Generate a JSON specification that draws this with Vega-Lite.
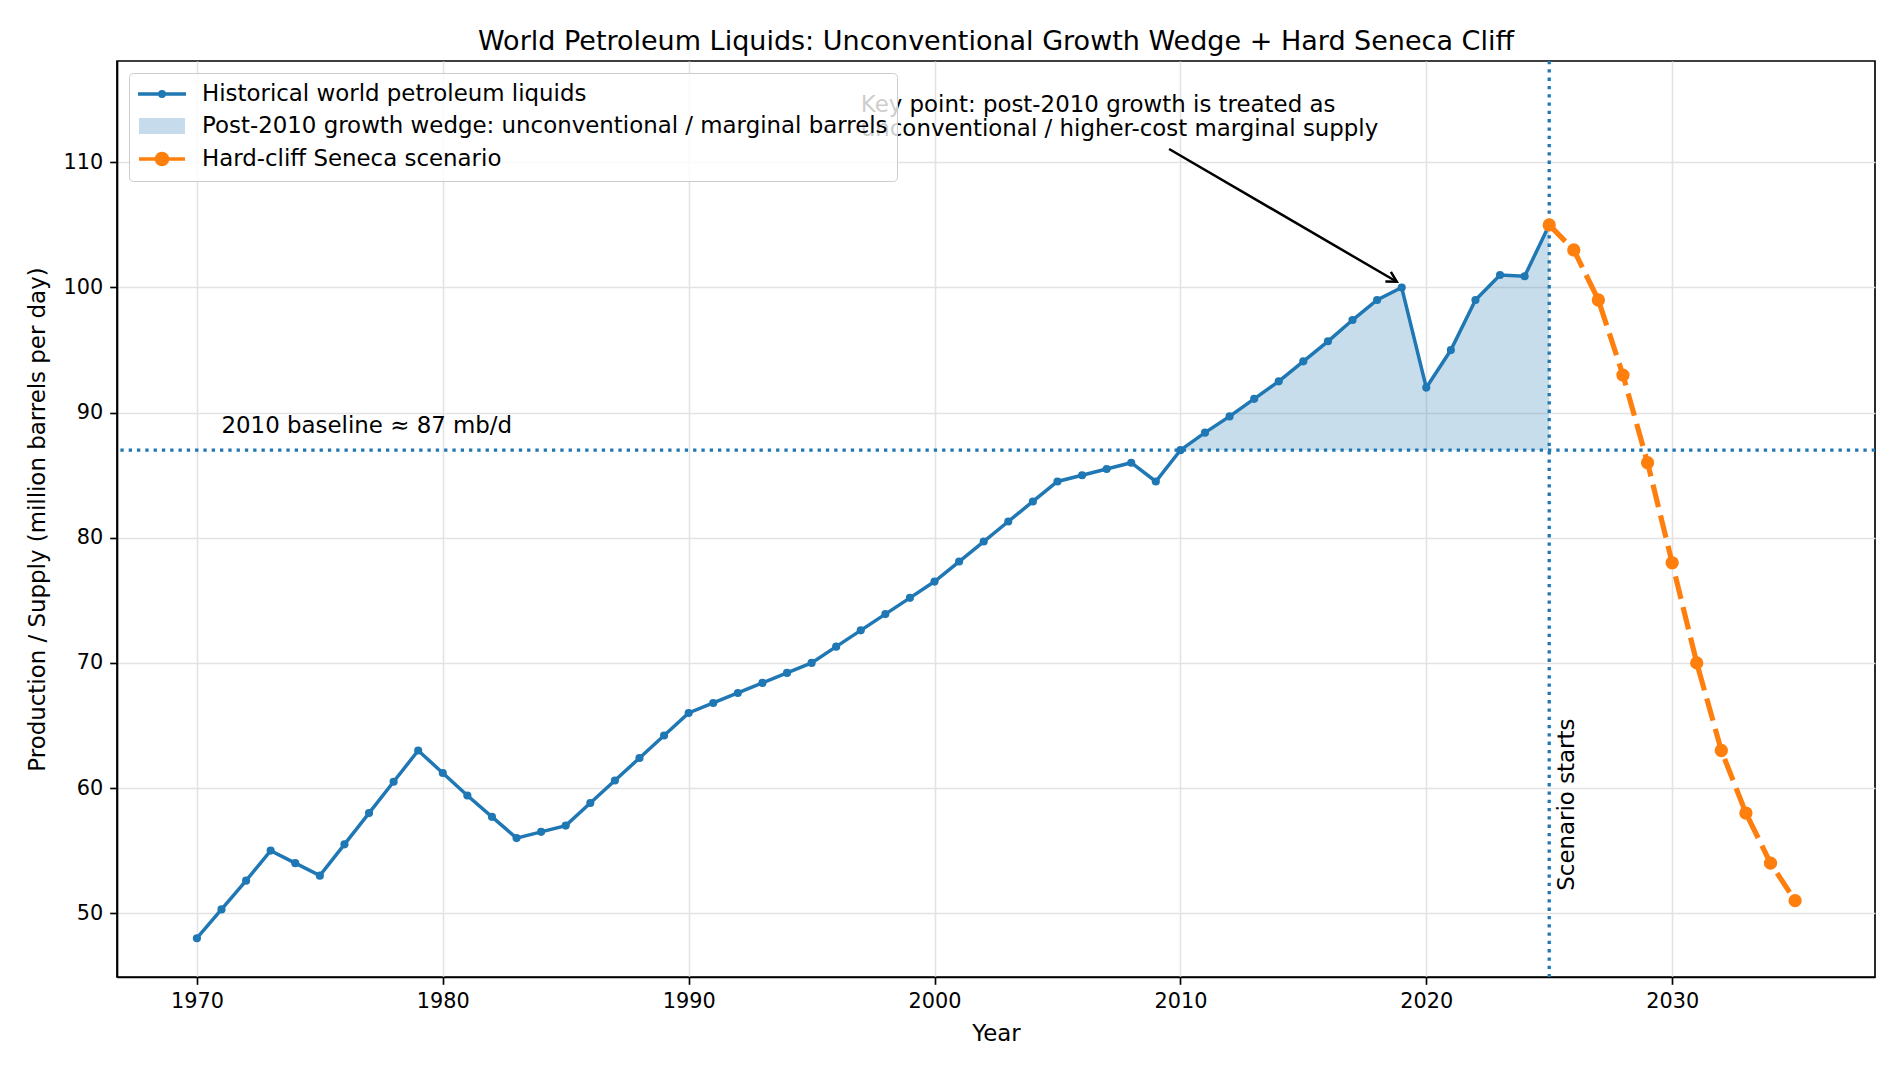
{
  "$schema": "https://vega.github.io/schema/vega-lite/v6.json",
  "width": 1758,
  "height": 916,
  "autosize": {"type": "none"},
  "padding": {"left": 117, "top": 61, "right": 25, "bottom": 96},
  "background": "white",
  "title": {
    "text": "World Petroleum Liquids: Unconventional Growth Wedge + Hard Seneca Cliff",
    "font": "DejaVu Sans",
    "fontSize": 27,
    "fontWeight": "normal",
    "color": "black",
    "anchor": "middle",
    "baseline": "alphabetic",
    "offset": -18
  },
  "datasets": {
    "hist": [
      {"year": 1970, "value": 48.0}, {"year": 1971, "value": 50.3}, {"year": 1972, "value": 52.6},
      {"year": 1973, "value": 55.0}, {"year": 1974, "value": 54.0}, {"year": 1975, "value": 53.0},
      {"year": 1976, "value": 55.5}, {"year": 1977, "value": 58.0}, {"year": 1978, "value": 60.5},
      {"year": 1979, "value": 63.0}, {"year": 1980, "value": 61.2}, {"year": 1981, "value": 59.4},
      {"year": 1982, "value": 57.7}, {"year": 1983, "value": 56.0}, {"year": 1984, "value": 56.5},
      {"year": 1985, "value": 57.0}, {"year": 1986, "value": 58.8}, {"year": 1987, "value": 60.6},
      {"year": 1988, "value": 62.4}, {"year": 1989, "value": 64.2}, {"year": 1990, "value": 66.0},
      {"year": 1991, "value": 66.8}, {"year": 1992, "value": 67.6}, {"year": 1993, "value": 68.4},
      {"year": 1994, "value": 69.2}, {"year": 1995, "value": 70.0}, {"year": 1996, "value": 71.3},
      {"year": 1997, "value": 72.6}, {"year": 1998, "value": 73.9}, {"year": 1999, "value": 75.2},
      {"year": 2000, "value": 76.5}, {"year": 2001, "value": 78.1}, {"year": 2002, "value": 79.7},
      {"year": 2003, "value": 81.3}, {"year": 2004, "value": 82.9}, {"year": 2005, "value": 84.5},
      {"year": 2006, "value": 85.0}, {"year": 2007, "value": 85.5}, {"year": 2008, "value": 86.0},
      {"year": 2009, "value": 84.5}, {"year": 2010, "value": 87.0}, {"year": 2011, "value": 88.4},
      {"year": 2012, "value": 89.7}, {"year": 2013, "value": 91.1}, {"year": 2014, "value": 92.5},
      {"year": 2015, "value": 94.1}, {"year": 2016, "value": 95.7}, {"year": 2017, "value": 97.4},
      {"year": 2018, "value": 99.0}, {"year": 2019, "value": 100.0}, {"year": 2020, "value": 92.0},
      {"year": 2021, "value": 95.0}, {"year": 2022, "value": 99.0}, {"year": 2023, "value": 101.0},
      {"year": 2024, "value": 100.9}, {"year": 2025, "value": 105.0}
    ],
    "scen": [
      {"year": 2025, "value": 105}, {"year": 2026, "value": 103}, {"year": 2027, "value": 99},
      {"year": 2028, "value": 93}, {"year": 2029, "value": 86}, {"year": 2030, "value": 78},
      {"year": 2031, "value": 70}, {"year": 2032, "value": 63}, {"year": 2033, "value": 58},
      {"year": 2034, "value": 54}, {"year": 2035, "value": 51}
    ],
    "legendrows": [
      {"series": "Historical world petroleum liquids"},
      {"series": "Post-2010 growth wedge: unconventional / marginal barrels"},
      {"series": "Hard-cliff Seneca scenario"}
    ],
    "hline": [{"value": 87}],
    "vline": [{"year": 2025}],
    "baselabel": [{"year": 1971, "value": 88.35, "label": "2010 baseline ≈ 87 mb/d"}],
    "keylabel": [{"year": 1997, "value": 114, "label": ["Key point: post-2010 growth is treated as", "unconventional / higher-cost marginal supply"]}],
    "scenlabel": [{"year": 2026.0, "value": 51.8, "label": "Scenario starts"}],
    "arrow": [{"year": 2009.54, "value": 111.07, "year2": 2018.8, "value2": 100.46}]
  },
  "layer": [
    {
      "data": {"name": "hist"},
      "transform": [{"filter": "datum.year >= 2010"}],
      "mark": {"type": "area", "color": "#1f77b4", "opacity": 0.25},
      "encoding": {
        "x": {"field": "year", "type": "quantitative", "title": "Year",
              "scale": {"domain": [1966.75, 2038.25], "nice": false, "zero": false},
              "axis": {"values": [1970, 1980, 1990, 2000, 2010, 2020, 2030], "format": "d"}},
        "y": {"field": "value", "type": "quantitative", "title": "Production / Supply (million barrels per day)",
              "scale": {"domain": [44.9, 118.1], "nice": false, "zero": false},
              "axis": {"values": [50, 60, 70, 80, 90, 100, 110], "format": "d"}},
        "y2": {"datum": 87}
      }
    },
    {
      "data": {"name": "hline"},
      "mark": {"type": "rule", "color": "#1f77b4", "strokeWidth": 3.3, "strokeDash": [3.3, 5]},
      "encoding": {
        "y": {"field": "value", "type": "quantitative", "title": "Production / Supply (million barrels per day)",
              "scale": {"domain": [44.9, 118.1], "nice": false, "zero": false}}
      }
    },
    {
      "data": {"name": "vline"},
      "mark": {"type": "rule", "color": "#1f77b4", "strokeWidth": 3.3, "strokeDash": [3.3, 5]},
      "encoding": {
        "x": {"field": "year", "type": "quantitative", "title": "Year",
              "scale": {"domain": [1966.75, 2038.25], "nice": false, "zero": false}}
      }
    },
    {
      "data": {"name": "hist"},
      "mark": {"type": "line", "color": "#1f77b4", "strokeWidth": 3.5, "point": {"filled": true, "size": 66, "color": "#1f77b4"}},
      "encoding": {
        "x": {"field": "year", "type": "quantitative", "title": "Year",
              "scale": {"domain": [1966.75, 2038.25], "nice": false, "zero": false}},
        "y": {"field": "value", "type": "quantitative", "title": "Production / Supply (million barrels per day)",
              "scale": {"domain": [44.9, 118.1], "nice": false, "zero": false}}
      }
    },
    {
      "data": {"name": "scen"},
      "mark": {"type": "line", "color": "#ff7f0e", "strokeWidth": 5.2, "strokeDash": [23, 8.5],
               "point": {"filled": true, "size": 177, "color": "#ff7f0e"}},
      "encoding": {
        "x": {"field": "year", "type": "quantitative", "title": "Year",
              "scale": {"domain": [1966.75, 2038.25], "nice": false, "zero": false}},
        "y": {"field": "value", "type": "quantitative", "title": "Production / Supply (million barrels per day)",
              "scale": {"domain": [44.9, 118.1], "nice": false, "zero": false}}
      }
    },
    {
      "data": {"name": "baselabel"},
      "mark": {"type": "text", "align": "left", "baseline": "alphabetic", "font": "DejaVu Sans", "fontSize": 22.9, "color": "black"},
      "encoding": {
        "x": {"field": "year", "type": "quantitative", "title": "Year",
              "scale": {"domain": [1966.75, 2038.25], "nice": false, "zero": false}},
        "y": {"field": "value", "type": "quantitative", "title": "Production / Supply (million barrels per day)",
              "scale": {"domain": [44.9, 118.1], "nice": false, "zero": false}},
        "text": {"field": "label"}
      }
    },
    {
      "data": {"name": "keylabel"},
      "mark": {"type": "text", "align": "left", "baseline": "alphabetic", "font": "DejaVu Sans", "fontSize": 22.9, "lineHeight": 24, "color": "black"},
      "encoding": {
        "x": {"field": "year", "type": "quantitative", "title": "Year",
              "scale": {"domain": [1966.75, 2038.25], "nice": false, "zero": false}},
        "y": {"field": "value", "type": "quantitative", "title": "Production / Supply (million barrels per day)",
              "scale": {"domain": [44.9, 118.1], "nice": false, "zero": false}},
        "text": {"field": "label"}
      }
    },
    {
      "data": {"name": "scenlabel"},
      "mark": {"type": "text", "align": "left", "baseline": "alphabetic", "angle": 270, "font": "DejaVu Sans", "fontSize": 22.9, "color": "black"},
      "encoding": {
        "x": {"field": "year", "type": "quantitative", "title": "Year",
              "scale": {"domain": [1966.75, 2038.25], "nice": false, "zero": false}},
        "y": {"field": "value", "type": "quantitative", "title": "Production / Supply (million barrels per day)",
              "scale": {"domain": [44.9, 118.1], "nice": false, "zero": false}},
        "text": {"field": "label"}
      }
    },
    {
      "data": {"name": "arrow"},
      "mark": {"type": "rule", "color": "black", "strokeWidth": 2.5},
      "encoding": {
        "x": {"field": "year", "type": "quantitative", "title": "Year",
              "scale": {"domain": [1966.75, 2038.25], "nice": false, "zero": false}},
        "y": {"field": "value", "type": "quantitative", "title": "Production / Supply (million barrels per day)",
              "scale": {"domain": [44.9, 118.1], "nice": false, "zero": false}},
        "x2": {"field": "year2"},
        "y2": {"field": "value2"}
      }
    },
    {
      "data": {"name": "arrow"},
      "mark": {"type": "point", "shape": "M-1,-0.55L0,0L-1,0.55", "size": 400, "angle": 30.2, "filled": false, "color": "black", "strokeWidth": 2.5, "opacity": 1},
      "encoding": {
        "x": {"field": "year2", "type": "quantitative", "title": "Year",
              "scale": {"domain": [1966.75, 2038.25], "nice": false, "zero": false}},
        "y": {"field": "value2", "type": "quantitative", "title": "Production / Supply (million barrels per day)",
              "scale": {"domain": [44.9, 118.1], "nice": false, "zero": false}}
      }
    },
    {
      "data": {"name": "legendrows"},
      "mark": {"type": "point", "filled": true, "opacity": 0},
      "encoding": {
        "color": {
          "field": "series", "type": "nominal",
          "scale": {
            "domain": ["Historical world petroleum liquids", "Post-2010 growth wedge: unconventional / marginal barrels", "Hard-cliff Seneca scenario"],
            "range": ["#1f77b4", "#c6dbec", "#ff7f0e"]
          },
          "legend": {
            "title": null, "orient": "top-left", "offset": 12, "padding": 9, "rowPadding": 5,
            "labelFont": "DejaVu Sans", "labelFontSize": 22.9, "labelColor": "black", "labelLimit": 2000,
            "labelOffset": 28, "symbolOffset": 12, "symbolSize": 400, "symbolStrokeWidth": 3.5, "symbolOpacity": 1,
            "fillColor": "rgba(255,255,255,0.8)", "strokeColor": "#cccccc", "cornerRadius": 4
          }
        },
        "shape": {
          "field": "series", "type": "nominal",
          "scale": {
            "domain": ["Historical world petroleum liquids", "Post-2010 growth wedge: unconventional / marginal barrels", "Hard-cliff Seneca scenario"],
            "range": [
              "M-2.4,0L2.4,0M0.22,0C0.22,0.122,0.122,0.22,0,0.22C-0.122,0.22,-0.22,0.122,-0.22,0C-0.22,-0.122,-0.122,-0.22,0,-0.22C0.122,-0.22,0.22,-0.122,0.22,0Z",
              "M-2.3,-0.8L2.3,-0.8L2.3,0.8L-2.3,0.8Z",
              "M-2.3,0L2.3,0M0.55,0C0.55,0.304,0.304,0.55,0,0.55C-0.304,0.55,-0.55,0.304,-0.55,0C-0.55,-0.304,-0.304,-0.55,0,-0.55C0.304,-0.55,0.55,-0.304,0.55,0Z"
            ]
          },
          "legend": {
            "title": null, "orient": "top-left", "offset": 12, "padding": 9, "rowPadding": 5,
            "labelFont": "DejaVu Sans", "labelFontSize": 22.9, "labelColor": "black", "labelLimit": 2000,
            "labelOffset": 28, "symbolOffset": 12, "symbolSize": 400, "symbolStrokeWidth": 3.5, "symbolOpacity": 1,
            "fillColor": "rgba(255,255,255,0.8)", "strokeColor": "#cccccc", "cornerRadius": 4
          }
        },
        "stroke": {
          "field": "series", "type": "nominal",
          "scale": {
            "domain": ["Historical world petroleum liquids", "Post-2010 growth wedge: unconventional / marginal barrels", "Hard-cliff Seneca scenario"],
            "range": ["#1f77b4", "transparent", "#ff7f0e"]
          },
          "legend": {
            "title": null, "orient": "top-left", "offset": 12, "padding": 9, "rowPadding": 5,
            "labelFont": "DejaVu Sans", "labelFontSize": 22.9, "labelColor": "black", "labelLimit": 2000,
            "labelOffset": 28, "symbolOffset": 12, "symbolSize": 400, "symbolStrokeWidth": 3.5, "symbolOpacity": 1,
            "fillColor": "rgba(255,255,255,0.8)", "strokeColor": "#cccccc", "cornerRadius": 4
          }
        }
      }
    }
  ],
  "config": {
    "font": "DejaVu Sans",
    "view": {"stroke": "black", "strokeWidth": 1.67},
    "axis": {
      "labelFont": "DejaVu Sans",
      "labelFontSize": 20.8,
      "labelColor": "black",
      "labelPadding": 7,
      "labelFlush": false,
      "tickSize": 7.3,
      "tickWidth": 1.67,
      "tickColor": "black",
      "domainColor": "black",
      "domainWidth": 1.67,
      "grid": true,
      "gridColor": "#e3e3e3",
      "gridWidth": 1.6,
      "titleFont": "DejaVu Sans",
      "titleFontSize": 22.9,
      "titleFontWeight": "normal",
      "titleColor": "black"
    },
    "axisX": {"titlePadding": 11},
    "axisY": {"titlePadding": 13.5}
  }
}
